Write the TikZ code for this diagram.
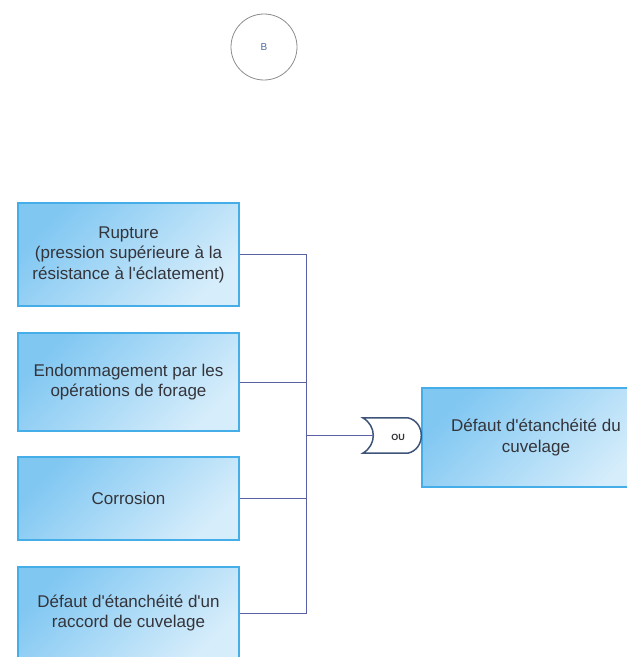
\documentclass[tikz,border=0pt]{standalone}
\usepackage{fontspec}
\setmainfont{Liberation Sans}
\begin{document}
\begin{tikzpicture}[x=1pt,y=-1pt,
  event/.style={rectangle, draw=boxedge, line width=1.3pt,
    top color=boxdark, bottom color=boxlight, shading angle=45,
    minimum width=221pt, inner sep=0pt, align=center,
    text=textgray, font=\fontsize{17}{20.5}\selectfont},
  link/.style={draw=linkblue, line width=0.9pt},
  gateline/.style={draw=gateedge, line width=1.5pt, fill=white}]
\definecolor{boxedge}{HTML}{45AEE8}
\definecolor{boxdark}{HTML}{80C7F2}
\definecolor{boxlight}{HTML}{D6EDFB}
\definecolor{textgray}{HTML}{34343A}
\definecolor{linkblue}{HTML}{5A60A6}
\definecolor{gateedge}{HTML}{3E5478}
\definecolor{refgray}{HTML}{8C8C8C}
\definecolor{refblue}{HTML}{4E6C9C}

\useasboundingbox (0,0) rectangle (627,657);

% transfer marker
\node[circle, draw=refgray, line width=0.8pt, minimum size=66pt, inner sep=0pt,
      text=refblue, font=\fontsize{10}{11}\selectfont] (b) at (264,47) {B};

% basic events
\node[event, minimum height=103pt] (c1) at (128.5,254.5)
  {Rupture\\(pression supérieure à la\\résistance à l\textquotesingle éclatement)};
\node[event, minimum height=98pt] (c2) at (128.5,382)
  {Endommagement par les\\opérations de forage};
\node[event, minimum height=83pt] (c3) at (128.5,498.5)
  {Corrosion};
\node[event, minimum height=92pt] (c4) at (128.5,613)
  {Défaut d\textquotesingle étanchéité d\textquotesingle un\\raccord de cuvelage};

% top event
\node[event, minimum width=228pt, minimum height=99pt] (top) at (536,437.5)
  {Défaut d\textquotesingle étanchéité du\\cuvelage};

% OR gate
\node[inner sep=0pt, minimum width=60pt, minimum height=35pt] (gate) at (393,435.5) {};
\draw[gateline] (gate.north west) -- ++(45,0)
  .. controls ++(18,4) and ++(18,-4) .. ([xshift=45pt]gate.south west)
  -- (gate.south west)
  .. controls ++(14,-8) and ++(14,8) .. (gate.north west) -- cycle;
\node[font=\bfseries\fontsize{9}{10}\selectfont, text=textgray] (ou) at (398,437) {OU};
\coordinate (gin) at (373.5,435.5);

% connectors
\coordinate (j) at (306,435.5);
\draw[link] (c1.east) -| (j);
\draw[link] (c4.east) -| (j);
\draw[link] (c2.east) -- (c2.east -| j);
\draw[link] (c3.east) -- (c3.east -| j);
\draw[link] (j) -- (gin);
\end{tikzpicture}
\end{document}
